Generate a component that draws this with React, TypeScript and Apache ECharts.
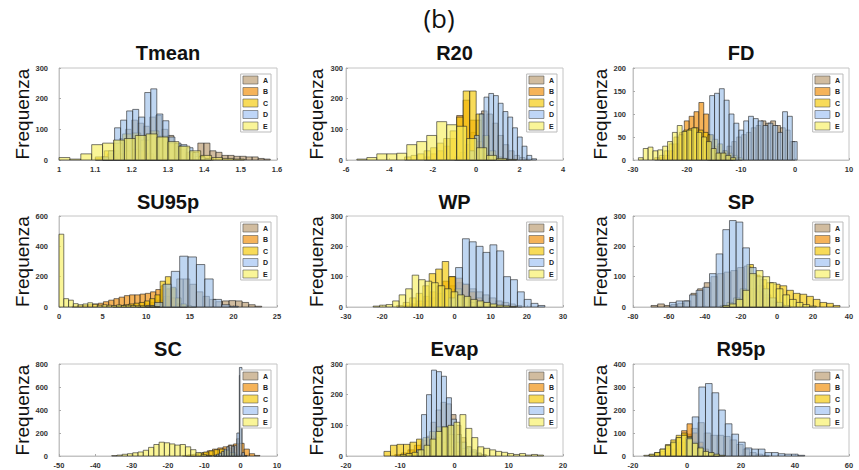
import React, { useEffect, useRef } from 'react';
import * as echarts from 'echarts';

type Hist = { start: number; width: number; counts: number[] };

const seriesNames = ['A', 'B', 'C', 'D', 'E'];
const panelTitles = ['Tmean', 'R20', 'FD', 'SU95p', 'WP', 'SP', 'SC', 'Evap', 'R95p'];
const xMins = [1, -6, -30, 0, -30, -80, -50, -20, -20];
const xMaxs = [1.6, 4, 10, 25, 30, 40, 10, 20, 60];
const xSteps = [0.1, 2, 10, 5, 10, 20, 10, 10, 20];
const yMaxs = [300, 300, 200, 600, 300, 300, 800, 300, 400];
const ySteps = [100, 100, 50, 200, 100, 100, 200, 100, 100];

// Tmean
const tmeanA: Hist = { start: 1.1, width: 0.0166, counts: [5, 10, 20, 30, 70, 100, 130, 120, 110, 140, 145, 100, 80, 50, 35, 20, 20, 55, 55, 30, 25, 15, 15, 12, 12, 10, 10, 5, 3] };
const tmeanB: Hist = { start: 1.12, width: 0.02, counts: [5, 10, 20, 30, 35, 30, 20, 10, 5] };
const tmeanC: Hist = { start: 1.1, width: 0.025, counts: [10, 30, 55, 85, 88, 65, 95, 78, 55, 45, 25, 12, 5] };
const tmeanD: Hist = { start: 1.1198, width: 0.0166, counts: [10, 30, 105, 130, 160, 165, 140, 220, 232, 150, 128, 75, 55, 50, 40, 25, 10, 5] };
const tmeanE: Hist = { start: 1.0, width: 0.03, counts: [8, 3, 20, 50, 55, 65, 70, 80, 85, 75, 60, 45, 30, 15, 8, 5, 3] };

// R20
const r20A: Hist = { start: -1.0, width: 0.25, counts: [10, 25, 50, 90, 130, 160, 150, 120, 80, 50, 30, 15, 8, 3] };
const r20B: Hist = { start: -2.4, width: 0.3, counts: [10, 20, 30, 45, 70, 145, 195, 130, 60, 20, 5] };
const r20C: Hist = { start: -3.3, width: 0.3, counts: [10, 15, 20, 30, 40, 55, 70, 95, 140, 225, 225, 150, 80, 30, 10, 5] };
const r20D: Hist = { start: -0.3, width: 0.22, counts: [30, 80, 150, 205, 217, 210, 185, 158, 140, 105, 75, 45, 15, 4] };
const r20E: Hist = { start: -5.5, width: 0.46, counts: [3, 8, 20, 20, 22, 50, 60, 80, 125, 115, 110, 70, 40, 15, 5, 2] };

// FD
const fdA: Hist = { start: -16.2, width: 0.9, counts: [5, 10, 15, 20, 30, 40, 50, 55, 60, 70, 75, 85, 80, 85, 75, 70, 65, 40] };
const fdB: Hist = { start: -25, width: 0.9, counts: [5, 10, 20, 35, 60, 85, 95, 105, 125, 100, 55, 30, 15, 8, 3] };
const fdC: Hist = { start: -26, width: 0.9, counts: [5, 10, 20, 35, 50, 55, 65, 68, 70, 65, 60, 55, 45, 35, 20, 15, 10, 5] };
const fdD: Hist = { start: -15.8, width: 0.9, counts: [140, 145, 155, 130, 100, 80, 65, 85, 95, 90, 85, 75, 80, 75, 60, 105, 95, 40] };
const fdE: Hist = { start: -29, width: 0.9, counts: [5, 25, 28, 20, 22, 30, 40, 60, 75, 62, 65, 70, 60, 50, 40, 25, 15, 15, 10, 5] };

// SU95p
const su95pA: Hist = { start: 9, width: 0.75, counts: [10, 20, 30, 45, 70, 120, 185, 185, 150, 100, 70, 50, 35, 40, 42, 40, 30, 15, 5] };
const su95pB: Hist = { start: 1.5, width: 0.6, counts: [5, 8, 10, 15, 20, 25, 35, 45, 55, 65, 75, 80, 80, 85, 90, 100, 115, 140, 120, 60, 20, 5] };
const su95pC: Hist = { start: 6.2, width: 0.6, counts: [5, 10, 15, 20, 25, 30, 40, 55, 80, 170, 200, 130, 60, 20, 8, 3] };
const su95pD: Hist = { start: 10, width: 0.96, counts: [10, 30, 150, 235, 335, 330, 280, 185, 50, 15, 5] };
const su95pE: Hist = { start: 0, width: 0.55, counts: [480, 55, 45, 22, 15, 20, 28, 18, 12, 15, 12, 10, 14, 10, 12, 10, 8, 8, 5, 5, 3] };

// WP
const wpA: Hist = { start: -12, width: 1.8, counts: [5, 10, 20, 30, 45, 60, 70, 80, 75, 60, 50, 40, 30, 20, 15, 10, 5] };
const wpB: Hist = { start: -14, width: 1.8, counts: [5, 10, 20, 35, 50, 70, 85, 100, 95, 75, 50, 30, 15, 8, 3] };
const wpC: Hist = { start: -16, width: 1.8, counts: [5, 15, 30, 45, 70, 110, 125, 150, 100, 60, 30, 15, 5] };
const wpD: Hist = { start: -1.6, width: 1.9, counts: [30, 130, 225, 215, 200, 180, 205, 185, 100, 90, 50, 25, 12, 5] };
const wpE: Hist = { start: -22.5, width: 1.8, counts: [3, 6, 8, 20, 40, 60, 105, 90, 85, 80, 70, 60, 50, 40, 35, 25, 20, 15, 10, 6, 4, 2] };

// SP
const spA: Hist = { start: -70, width: 3.7, counts: [5, 10, 5, 8, 12, 20, 45, 60, 80, 100, 110, 115, 120, 130, 135, 105, 70, 40, 20, 10, 5] };
const spB: Hist = { start: -30, width: 3.7, counts: [5, 10, 20, 40, 60, 50, 30, 15, 5] };
const spC: Hist = { start: -31.6, width: 3.7, counts: [5, 15, 30, 60, 140, 105, 90, 80, 75, 70, 55, 45, 42, 35, 25, 15, 12, 5] };
const spD: Hist = { start: -59.7, width: 3.7, counts: [15, 20, 20, 40, 55, 65, 110, 175, 255, 285, 280, 195, 130, 100, 60, 30, 15, 5] };
const spE: Hist = { start: -30, width: 3.7, counts: [5, 10, 25, 55, 110, 120, 100, 80, 60, 40, 25, 15, 8, 3] };

// SC
const scA: Hist = { start: -7.35, width: 0.7, counts: [5, 10, 15, 25, 40, 55, 65, 70, 75, 150, 700, 20, 5] };
const scB: Hist = { start: -15, width: 1.45, counts: [5, 10, 20, 30, 45, 60, 70, 80, 95, 105, 110, 60, 20, 5] };
const scC: Hist = { start: -16, width: 1.45, counts: [5, 10, 15, 25, 35, 45, 55, 60, 50, 30, 10] };
const scD: Hist = { start: -7.35, width: 0.7, counts: [8, 15, 25, 40, 60, 80, 92, 85, 90, 200, 770, 30, 5] };
const scE: Hist = { start: -35.5, width: 1.45, counts: [3, 8, 15, 20, 28, 35, 50, 75, 100, 120, 115, 105, 95, 100, 80, 55, 30, 12, 5] };

// Evap
const evapA: Hist = { start: -8, width: 0.92, counts: [10, 20, 40, 60, 110, 150, 175, 170, 135, 100, 60, 30, 15, 8, 3] };
const evapB: Hist = { start: -11, width: 1.2, counts: [5, 10, 20, 35, 50, 65, 60, 45, 30, 15, 8, 3] };
const evapC: Hist = { start: -13, width: 1.2, counts: [15, 35, 38, 38, 45, 55, 60, 80, 95, 95, 70, 45, 25, 12, 5] };
const evapD: Hist = { start: -7, width: 0.92, counts: [20, 135, 200, 280, 275, 260, 190, 120, 70, 45, 30, 20, 10, 5] };
const evapE: Hist = { start: -10, width: 1.1, counts: [5, 8, 12, 20, 35, 55, 80, 95, 100, 110, 135, 90, 60, 30, 25, 20, 15, 12, 8, 5, 8, 3, 5, 3] };

// R95p
const r95pA: Hist = { start: -8, width: 2.4, counts: [10, 30, 60, 95, 120, 145, 100, 90, 90, 85, 70, 50, 30, 15, 8, 3] };
const r95pB: Hist = { start: -14, width: 2, counts: [5, 10, 20, 35, 55, 80, 110, 140, 100, 60, 30, 15, 5] };
const r95pC: Hist = { start: -14, width: 2, counts: [5, 15, 30, 50, 70, 90, 100, 85, 60, 40, 20, 10, 5] };
const r95pD: Hist = { start: -0.5, width: 2.45, counts: [80, 170, 300, 315, 275, 200, 140, 95, 60, 35, 30, 30, 15, 15, 10, 8, 8, 3] };
const r95pE: Hist = { start: -16, width: 2, counts: [3, 8, 15, 30, 45, 60, 80, 90, 75, 55, 35, 20, 15, 8, 3] };

const panelHists: Hist[][] = [
  [tmeanA, tmeanB, tmeanC, tmeanD, tmeanE],
  [r20A, r20B, r20C, r20D, r20E],
  [fdA, fdB, fdC, fdD, fdE],
  [su95pA, su95pB, su95pC, su95pD, su95pE],
  [wpA, wpB, wpC, wpD, wpE],
  [spA, spB, spC, spD, spE],
  [scA, scB, scC, scD, scE],
  [evapA, evapB, evapC, evapD, evapE],
  [r95pA, r95pB, r95pC, r95pD, r95pE],
];

// styles
const fillColors = ['rgba(184,152,107,0.65)', 'rgba(240,138,0,0.65)', 'rgba(245,200,0,0.65)', 'rgba(156,192,234,0.65)', 'rgba(248,240,96,0.65)'];
const legendColors = ['#d1bc9f', '#f5b359', '#f8db59', '#bfd6f7', '#faf598'];
const colLeft = [59, 346, 633];
const colWidth = [218, 217, 216];
const rowTop = [68, 216, 364];
const rowHeight = [92, 91, 92];
const titleTop = [43, 192, 339];
const yLabelMargin = [11, 3, 7];
const FONT = 'Liberation Sans, Arial, sans-serif';

function makeRender(fill: string) {
  return (_params: any, api: any) => {
    const x0 = api.value(0);
    const x1 = api.value(1);
    const c = api.value(2);
    const p0 = api.coord([x0, 0]);
    const p1 = api.coord([x1, c]);
    return {
      type: 'rect',
      shape: { x: p0[0], y: p1[1], width: p1[0] - p0[0], height: p0[1] - p1[1] },
      style: { fill, stroke: 'rgba(35,35,35,0.8)', lineWidth: 0.75 },
    };
  };
}

export default function App() {
  const ref = useRef<HTMLDivElement>(null);
  useEffect(() => {
    if (!ref.current) return;
    const chart = echarts.init(ref.current, undefined, { renderer: 'svg' });
    const grids: any[] = [];
    const xAxes: any[] = [];
    const yAxes: any[] = [];
    const series: any[] = [];
    const legends: any[] = [];
    const titles: any[] = [
      { text: '(b)', left: 439, top: 5, textAlign: 'center', padding: 0, textStyle: { fontSize: 26, fontWeight: 'normal', color: '#111', fontFamily: 'Open Sans, sans-serif' } },
    ];
    panelTitles.forEach((t, p) => {
      const r = Math.floor(p / 3);
      const c = p % 3;
      grids.push({ left: colLeft[c], top: rowTop[r], width: colWidth[c], height: rowHeight[r], show: true, borderColor: '#c4c4c4', borderWidth: 1, backgroundColor: '#fff' });
      xAxes.push({
        gridIndex: p, type: 'value', min: xMins[p], max: xMaxs[p], interval: xSteps[p],
        axisLine: { show: true, onZero: false, lineStyle: { color: '#c4c4c4' } },
        axisTick: { show: true, inside: true, length: 2, lineStyle: { color: '#aaa' } },
        axisLabel: { fontSize: 7.5, color: '#333', margin: 5, fontWeight: 'bold', fontFamily: FONT, showMinLabel: true, showMaxLabel: true },
        splitLine: { show: false },
      });
      yAxes.push({
        gridIndex: p, type: 'value', min: 0, max: yMaxs[p], interval: ySteps[p],
        name: 'Frequenza', nameLocation: 'middle', nameGap: 20,
        nameTextStyle: { fontSize: 19, color: '#111', fontFamily: FONT },
        axisLine: { show: true, onZero: false, lineStyle: { color: '#c4c4c4' } },
        axisTick: { show: true, inside: true, length: 2, lineStyle: { color: '#aaa' } },
        axisLabel: { fontSize: 7.5, color: '#333', margin: yLabelMargin[c], fontWeight: 'bold', fontFamily: FONT },
        splitLine: { show: false },
      });
      titles.push({
        text: t, left: colLeft[c] + colWidth[c] / 2, top: titleTop[r], textAlign: 'center', padding: 0,
        textStyle: { fontSize: 20, fontWeight: 'bold', color: '#111', fontFamily: FONT },
      });
      legends.push({
        data: seriesNames.map((n, i) => ({ name: n, itemStyle: { color: legendColors[i], borderColor: '#555', borderWidth: 0.6 } })),
        orient: 'vertical', right: 859 - (colLeft[c] + colWidth[c] - 6), top: rowTop[r] + 6,
        icon: 'rect', itemWidth: 15, itemHeight: 8, itemGap: 2.5, padding: [1.5, 3, 1.5, 2],
        borderColor: '#bbb', borderWidth: 1, backgroundColor: '#fff', selectedMode: false,
        textStyle: { fontSize: 7, fontWeight: 'bold', color: '#222', lineHeight: 9, fontFamily: FONT },
      });
      panelHists[p].forEach((h, si) => {
        series.push({
          type: 'custom', name: seriesNames[si], xAxisIndex: p, yAxisIndex: p,
          renderItem: makeRender(fillColors[si]),
          itemStyle: { color: legendColors[si] },
          encode: { x: [0, 1], y: 2 },
          silent: true,
          data: h.counts.map((v, i) => [h.start + i * h.width, h.start + (i + 1) * h.width, v]),
        });
      });
    });
    chart.setOption({
      animation: false,
      backgroundColor: '#fff',
      textStyle: { fontFamily: FONT },
      title: titles,
      grid: grids,
      xAxis: xAxes,
      yAxis: yAxes,
      legend: legends,
      series,
    });
    return () => chart.dispose();
  }, []);
  return <div ref={ref} style={{ position: 'fixed', left: 0, top: 0, width: 859, height: 470, background: '#fff' }} />;
}
